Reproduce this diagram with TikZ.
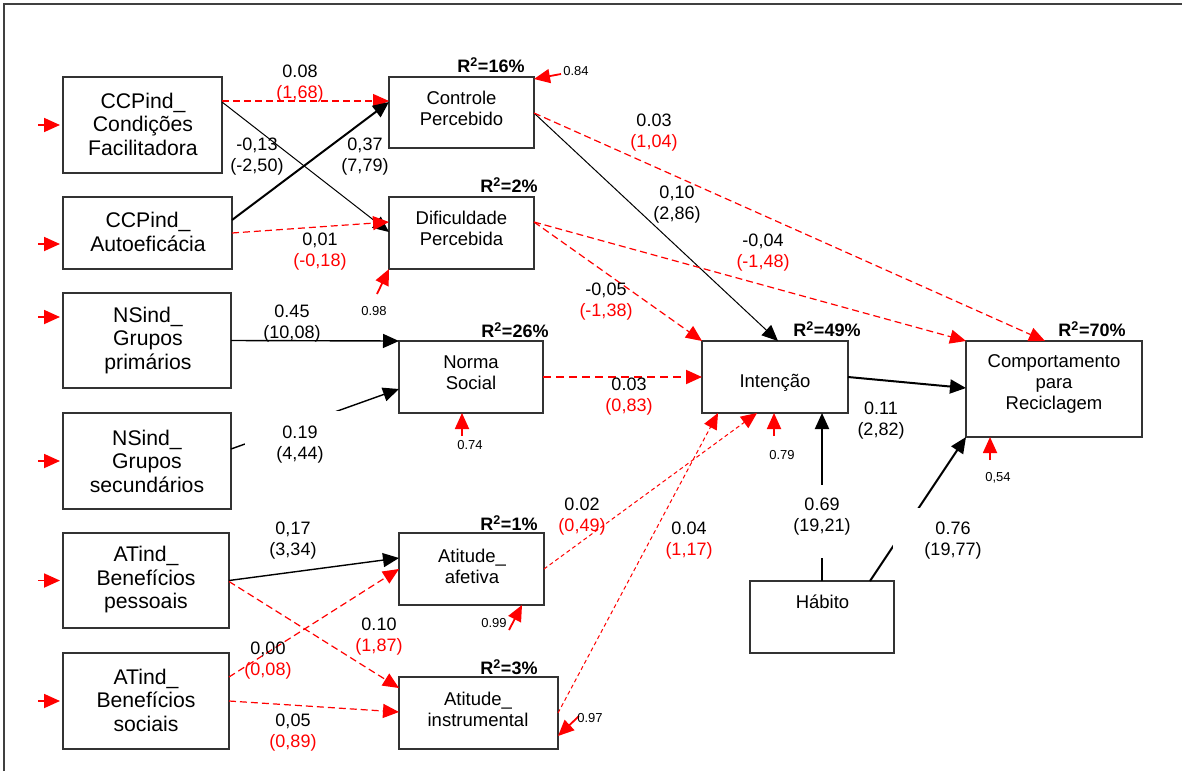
\documentclass[tikz,border=0pt]{standalone}
\usepackage{fontspec}
\setmainfont{Liberation Sans}
\usetikzlibrary{arrows.meta}
\newcommand{\rtxt}[1]{\textcolor{red}{#1}}
\begin{document}
\begin{tikzpicture}[x=1pt,y=-1pt,
  box/.style={draw=black!80, line width=1.4pt, inner sep=0pt, outer sep=0pt},
  bigtxt/.style={align=center, font=\fontsize{21.2}{23.5}\selectfont, inner sep=0pt},
  midtxt/.style={align=center, font=\fontsize{18.5}{21}\selectfont, inner sep=0pt},
  elab/.style={align=center, font=\fontsize{18}{21}\selectfont, inner sep=0pt},
  rlab/.style={font=\bfseries\fontsize{18}{21}\selectfont, inner sep=0pt},
  smalllab/.style={font=\fontsize{13}{15}\selectfont, inner sep=0pt},
  mask/.style={fill=white, inner sep=0pt},
  headtip/.style={-{Triangle[length=16pt,width=14pt]}},
  blk/.style={headtip, draw=black, line width=1.4pt},
  blkthin/.style={headtip, draw=black, line width=1pt},
  blkthick/.style={headtip, draw=black, line width=2pt},
  reddash/.style={headtip, draw=red, line width=1.2pt, dash pattern=on 7pt off 4pt},
  redthick/.style={headtip, draw=red, line width=2pt, dash pattern=on 8pt off 5pt},
  reddot/.style={headtip, draw=red, line width=1pt, dash pattern=on 4pt off 3pt},
  err/.style={headtip, draw=red, line width=1.8pt}
]
\useasboundingbox (0,0) rectangle (1182,771);

% outer frame
\draw[line width=2pt, black!75] (4,771) -- (4,3.5) -- (1182,3.5);

% boxes
\node[box, minimum width=159pt, minimum height=96pt] (cf) at (142.5,125) {};
\node[box, minimum width=169pt, minimum height=72pt] (ae) at (147.5,233) {};
\node[box, minimum width=145pt, minimum height=71pt] (cp) at (461.5,112.5) {};
\node[box, minimum width=145pt, minimum height=72pt] (dp) at (461.5,233) {};
\node[box, minimum width=168pt, minimum height=95pt] (gp) at (147,340.5) {};
\node[box, minimum width=168pt, minimum height=96pt] (gs) at (147,461) {};
\node[box, minimum width=144pt, minimum height=72pt] (ns) at (471,377) {};
\node[box, minimum width=146pt, minimum height=72pt] (in) at (775,377) {};
\node[box, minimum width=176pt, minimum height=96pt] (cr) at (1054,389) {};
\node[box, minimum width=166pt, minimum height=95pt] (bp) at (146,580.5) {};
\node[box, minimum width=166pt, minimum height=96pt] (bs) at (146,701) {};
\node[box, minimum width=145pt, minimum height=72pt] (af) at (471.5,569) {};
\node[box, minimum width=159pt, minimum height=72pt] (ai) at (478.5,713) {};
\node[box, minimum width=144pt, minimum height=72pt] (hb) at (822,617) {};

% box texts
\node[bigtxt] (cft) at (143,124) {CCPind\_\\Condições\\Facilitadora};
\node[bigtxt] (aet) at (148,232) {CCPind\_\\Autoeficácia};
\node[midtxt] (cpt) at (461.5,108.5) {Controle\\Percebido};
\node[midtxt] (dpt) at (461.5,228.5) {Dificuldade\\Percebida};
\node[bigtxt] (gpt) at (148,340.5) {NSind\_\\Grupos\\primários};
\node[bigtxt] (gst) at (147,461) {NSind\_\\Grupos\\secundários};
\node[midtxt] (nst) at (471,372.5) {Norma\\Social};
\node[midtxt] (int) at (775,383) {Intenção};
\node[midtxt] (crt) at (1054,384) {Comportamento\\para\\Reciclagem};
\node[bigtxt] (bpt) at (146,580) {ATind\_\\Benefícios\\pessoais};
\node[bigtxt] (bst) at (146,700) {ATind\_\\Benefícios\\sociais};
\node[midtxt] (aft) at (472,566) {Atitude\_\\afetiva};
\node[midtxt] (ait) at (478,709) {Atitude\_\\instrumental};
\node[midtxt] (hbt) at (822.5,602) {Hábito};

% explained variance
\node[rlab] (r1) at (491,65) {R\textsuperscript{2}=16\%};
\node[rlab] (r2) at (509,185) {R\textsuperscript{2}=2\%};
\node[rlab] (r3) at (515,330) {R\textsuperscript{2}=26\%};
\node[rlab] (r4) at (827,329) {R\textsuperscript{2}=49\%};
\node[rlab] (r5) at (1092,329) {R\textsuperscript{2}=70\%};
\node[rlab] (r6) at (509,523) {R\textsuperscript{2}=1\%};
\node[rlab] (r7) at (509,667) {R\textsuperscript{2}=3\%};

% structural paths
\draw[reddash] ([yshift=24pt]cf.east) -- ([yshift=11.5pt]cp.west);
\draw[blkthin] ([yshift=23pt]cf.east) -- ([yshift=1pt]dp.west);
\draw[blkthick] ([yshift=13pt]ae.east) -- ([yshift=10.5pt]cp.west);
\draw[reddash] (ae.east) -- ([yshift=11pt]dp.west);
\draw[blkthin] ([yshift=-0.5pt]cp.east) -- ([xshift=3pt]in.north);
\draw[reddash] ([yshift=-0.5pt]cp.east) -- ([xshift=-9pt]cr.north);
\draw[reddash] ([yshift=11pt]dp.east) -- (in.north west);
\draw[reddash] ([yshift=11pt]dp.east) -- (cr.north west);
\draw[blk] (gp.east) -- (ns.north west);
\draw[blk] ([yshift=12pt]gs.east) -- ([yshift=-12pt]ns.west);
\draw[redthick] (ns.east) -- (in.west);
\draw[blkthick] (in.east) -- ([yshift=1pt]cr.west);
\draw[blkthick] (hb.north) -- ([xshift=47pt]in.south);
\draw[blkthick] ([xshift=48pt]hb.north) -- (cr.south west);
\draw[blk] (bp.east) -- ([yshift=11pt]af.west);
\draw[reddash] ([yshift=-1pt]bp.east) -- ([yshift=-11pt]ai.north west);
\draw[reddash] ([yshift=24pt]bs.east) -- (af.west);
\draw[reddash] (bs.east) -- ([yshift=1pt]ai.west);
\draw[reddot] (af.east) -- ([xshift=-18pt]in.south);
\draw[reddot] (ai.east) -- ([xshift=-57pt]in.south);

% residual arrows
\coordinate (ecp) at (561,74);
\coordinate (edp) at (377,294);
\coordinate (ens) at (462,436);
\coordinate (ein) at (774,436);
\coordinate (ecr) at (990,460);
\coordinate (eaf) at (509,630);
\coordinate (eai) at (579,716);
\draw[err] (ecp) -- ([yshift=-2pt]cp.north east);
\draw[err] (edp) -- (dp.south west);
\draw[err] (ens) -- ([xshift=-9pt]ns.south);
\draw[err] (ein) -- ([xshift=-1pt]in.south);
\draw[err] (ecr) -- ([xshift=-64pt]cr.south);
\draw[err] (eaf) -- ([xshift=50.5pt]af.south);
\draw[err] (eai) -- ([yshift=-23pt]ai.east);
\node[smalllab] (s1) at (576,71) {0.84};
\node[smalllab] (s2) at (374,311) {0.98};
\node[smalllab] (s3) at (470,445) {0.74};
\node[smalllab] (s4) at (782,455) {0.79};
\node[smalllab] (s5) at (998,478) {0,54};
\node[smalllab] (s6) at (494,623) {0.99};
\node[smalllab] (s7) at (590,718) {0.97};

% indicator error arrows
\draw[err] ([xshift=-25pt]cf.west) -- ([xshift=-3pt]cf.west);
\draw[err] ([xshift=-25pt,yshift=-11pt]ae.west) -- ([xshift=-3pt,yshift=-11pt]ae.west);
\draw[err] ([xshift=-25pt,yshift=23.5pt]gp.west) -- ([xshift=-3pt,yshift=23.5pt]gp.west);
\draw[err] ([xshift=-25pt]gs.west) -- ([xshift=-3pt]gs.west);
\draw[err] ([xshift=-25pt]bp.west) -- ([xshift=-3pt]bp.west);
\draw[err] ([xshift=-25pt]bs.west) -- ([xshift=-3pt]bs.west);

% path coefficients (t values)
\node[elab] (l1) at (300,83.5) {0.08\\\rtxt{(1,68)}};
\node[elab] (l2) at (257,156.5) {-0,13\\(-2,50)};
\node[elab] (l3) at (365,156.5) {0,37\\(7,79)};
\node[elab] (l4) at (320,251.5) {0,01\\\rtxt{(-0,18)}};
\node[elab] (l5) at (677,204.5) {0,10\\(2,86)};
\node[elab] (l6) at (654,132.5) {0.03\\\rtxt{(1,04)}};
\node[elab] (l7) at (606,301.5) {-0,05\\\rtxt{(-1,38)}};
\node[elab] (l8) at (763,252.5) {-0,04\\\rtxt{(-1,48)}};
\node[elab] (l9) at (292,324) {0.45\\(10,08)};
\node[elab, mask, minimum width=110pt, minimum height=68pt] (l10) at (300,445) {0.19\\(4,44)};
\node[elab] (l11) at (629,396.5) {0.03\\\rtxt{(0,83)}};
\node[elab] (l12) at (881,420.5) {0.11\\(2,82)};
\node[mask, minimum width=80pt, minimum height=73pt] (m13) at (822,521.5) {};
\node[elab] (l13) at (822,516.5) {0.69\\(19,21)};
\node[elab, mask, minimum width=120pt, minimum height=66pt] (l14) at (953,541) {0.76\\(19,77)};
\node[elab] (l15) at (293,541) {0,17\\(3,34)};
\node[elab] (l16) at (379,637) {0.10\\\rtxt{(1,87)}};
\node[elab] (l17) at (268,661) {0,00\\\rtxt{(0,08)}};
\node[elab] (l18) at (293,733) {0,05\\\rtxt{(0,89)}};
\node[elab] (l19) at (582,517) {0.02\\\rtxt{(0,49)}};
\node[elab] (l20) at (689,540.5) {0.04\\\rtxt{(1,17)}};
\end{tikzpicture}
\end{document}
